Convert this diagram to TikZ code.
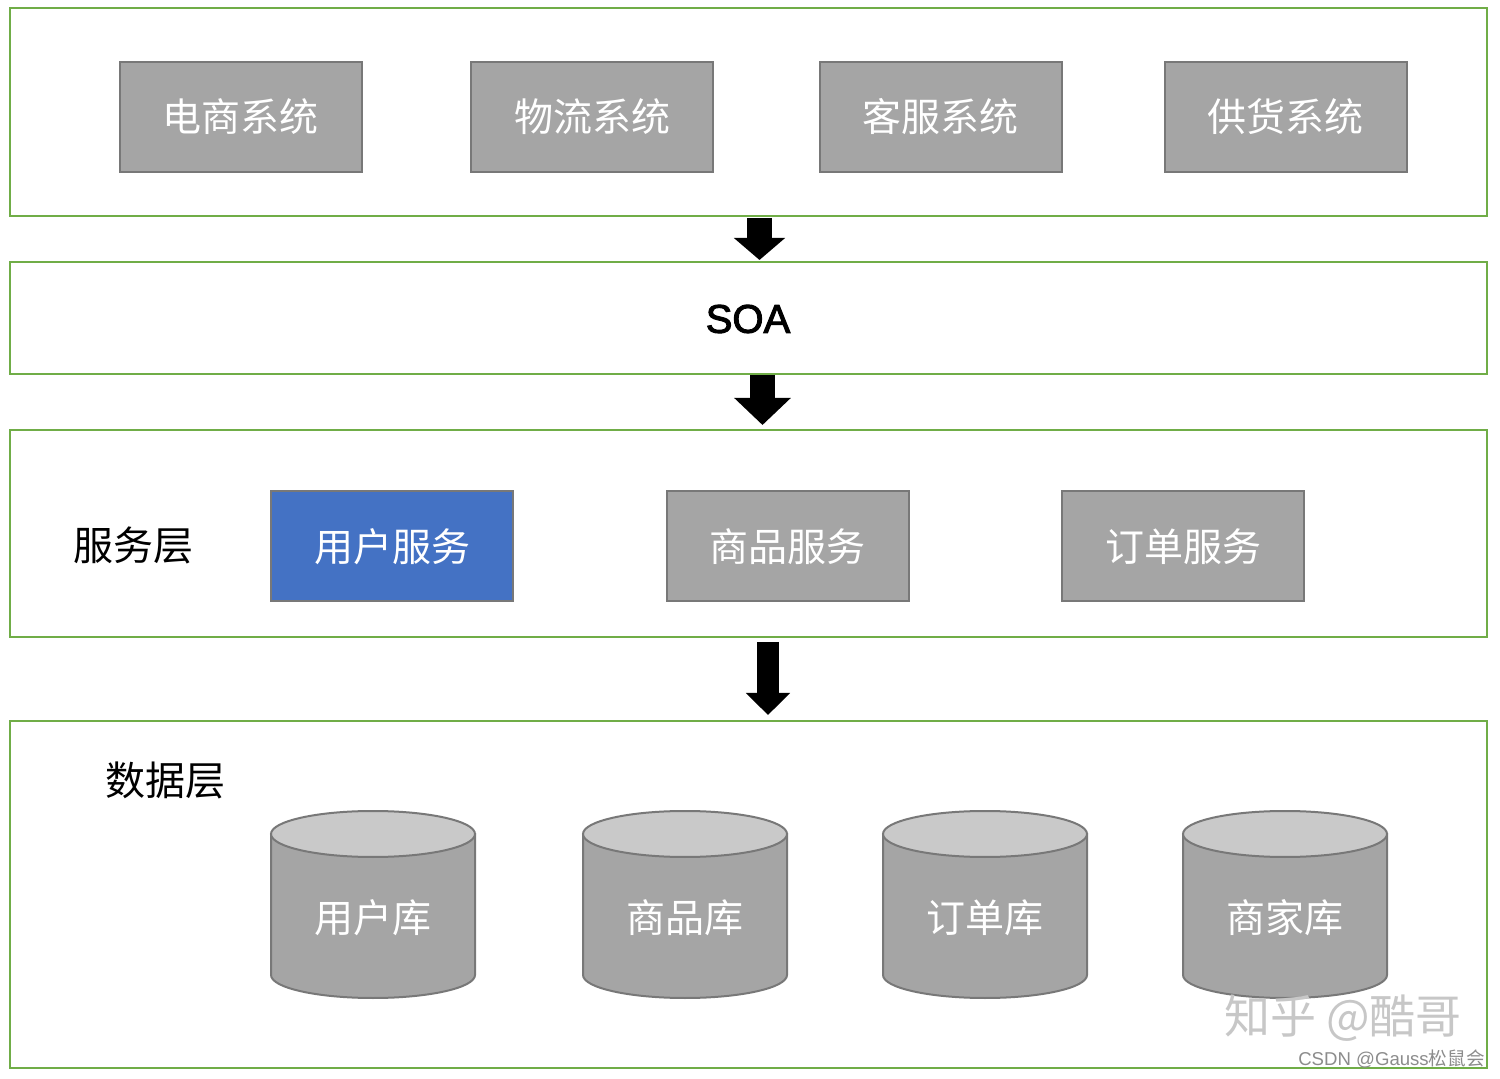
\documentclass[tikz,border=0pt]{standalone}
\usepackage{fontspec}
\setmainfont{Liberation Sans}
\newfontfamily\cjk{Noto Sans CJK SC}
\newfontfamily\soafont{Liberation Sans}[FakeBold=2.5]
\usetikzlibrary{arrows.meta}
\definecolor{lgreen}{HTML}{70AD47}
\definecolor{boxgray}{HTML}{A5A5A5}
\definecolor{edgegray}{HTML}{787878}
\definecolor{topgray}{HTML}{C9C9C9}
\definecolor{ublue}{HTML}{4472C4}
\tikzset{
  layer/.style={draw=lgreen, line width=1.2pt, fill=white, inner sep=0pt},
  gbox/.style={draw=edgegray, line width=1pt, fill=boxgray, minimum width=121pt, minimum height=55pt, inner sep=0pt, text=white, font=\cjk\fontsize{19.5pt}{22pt}\selectfont},
  bbox/.style={gbox, fill=ublue},
  lbl/.style={font=\cjk\fontsize{20pt}{24pt}\selectfont, text=black, inner sep=0pt},
  dblbl/.style={font=\cjk\fontsize{19.5pt}{22pt}\selectfont, text=white, inner sep=0pt},
  cylpath/.style={draw=edgegray, line width=1pt},
}
\newcommand{\dbcyl}[3]{% name, cx, label
  \filldraw[cylpath, fill=boxgray] (#2-102,834) -- (#2-102,975) arc[start angle=180, end angle=0, x radius=102, y radius=23] -- (#2+102,834) -- cycle;
  \filldraw[cylpath, fill=topgray] (#2,834) ellipse[x radius=102, y radius=23];
  \node[dblbl] (#1) at (#2,918) {#3};
}
\begin{document}
\begin{tikzpicture}[x=0.5pt,y=-0.5pt]
\useasboundingbox[fill=white] (0,0) rectangle (1500,1079);
% layers
\node[layer, minimum width=738.5pt, minimum height=104pt] (L1) at (748.5,112) {};
\node[layer, minimum width=738.5pt, minimum height=56pt] (L2) at (748.5,318) {};
\node[layer, minimum width=738.5pt, minimum height=103.5pt] (L3) at (748.5,533.5) {};
\node[layer, minimum width=738.5pt, minimum height=173.5pt] (L4) at (748.5,894.5) {};
% top systems
\node[gbox] (s1) at (240.5,117) {电商系统};
\node[gbox] (s2) at (592,117) {物流系统};
\node[gbox] (s3) at (940.5,117) {客服系统};
\node[gbox] (s4) at (1285.5,117) {供货系统};
% SOA
\node[font=\soafont\fontsize{20pt}{24pt}\selectfont, inner sep=0pt] (soa) at (748,319) {SOA};
% service layer
\node[lbl] (svc) at (133,545) {服务层};
\node[bbox] (u1) at (392,546.5) {用户服务};
\node[gbox] (u2) at (787.5,546.5) {商品服务};
\node[gbox] (u3) at (1183,546.5) {订单服务};
% data layer
\node[lbl] (dat) at (165,780) {数据层};
\dbcyl{d1}{373}{用户库}
\dbcyl{d2}{685}{商品库}
\dbcyl{d3}{985}{订单库}
\dbcyl{d4}{1285}{商家库}
% arrows
\coordinate (a1s) at (759.5,218); \coordinate (a1e) at (759.5,260);
\coordinate (a2s) at (762.5,375); \coordinate (a2e) at (762.5,425);
\coordinate (a3s) at (768,642);   \coordinate (a3e) at (768,715);
\draw[line width=12.5pt, -{Triangle[width=25pt, length=11pt]}] (a1s) -- (a1e);
\draw[line width=12.5pt, -{Triangle[width=27.5pt, length=13.5pt]}] (a2s) -- (a2e);
\draw[line width=11pt, -{Triangle[width=21.5pt, length=11pt]}] (a3s) -- (a3e);
% watermarks
\node[font=\cjk\fontsize{23pt}{26pt}\selectfont, text=black!22, inner sep=0pt] (wm1) at (1343,1018) {知乎 @酷哥};
\node[font=\fontsize{9.3pt}{11pt}\selectfont, text=black!45, inner sep=0pt, anchor=east] (wm2) at (1485,1059) {CSDN @Gauss{\cjk 松鼠会}};
\end{tikzpicture}
\end{document}
